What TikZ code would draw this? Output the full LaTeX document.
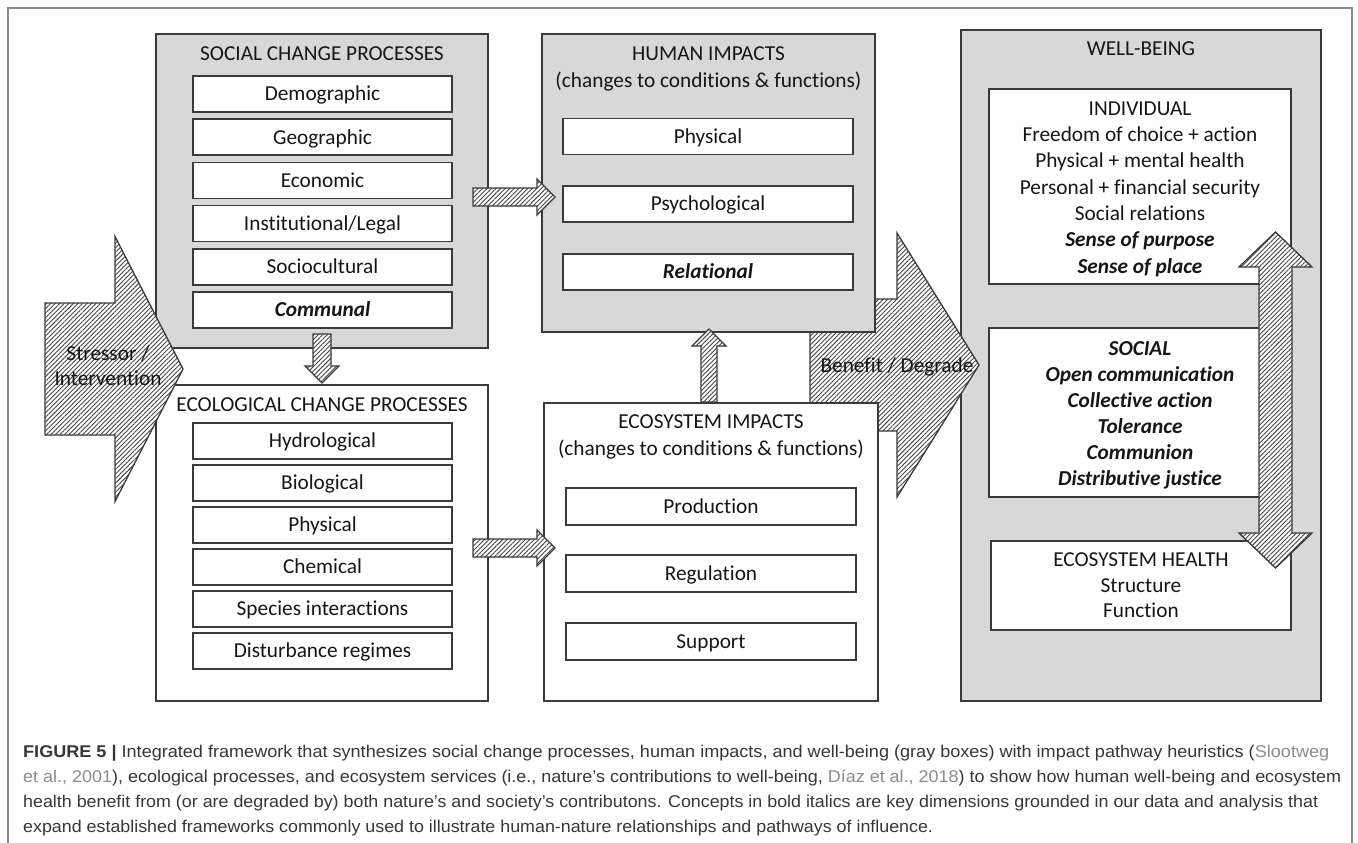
\documentclass[tikz,border=0pt]{standalone}
\usepackage{fontspec}
\setmainfont{Carlito}[Ligatures={TeX,NoCommon}]
\newfontfamily\capfont{Liberation Sans}
\usetikzlibrary{patterns.meta,calc}
\definecolor{boxgray}{RGB}{216,216,216}
\definecolor{edge}{RGB}{58,58,58}
\definecolor{ink}{RGB}{22,22,22}
\definecolor{framegray}{RGB}{140,140,140}
\definecolor{hatchline}{RGB}{70,70,70}
\definecolor{capink}{RGB}{55,55,55}
\definecolor{linkgray}{RGB}{140,140,140}
\newsavebox\capbox
\newcommand\fitline[2]{\sbox\capbox{#2}\pgfmathsetmacro\capsf{#1/\the\wd\capbox}\xdef\lastsf{\capsf}\scalebox{\capsf}[1]{\usebox\capbox}}
\newcommand\sameline[1]{\scalebox{\lastsf}[1]{#1}}
\newcommand\rarrow[5]{% start, tip, shaft half, head half, head length
  \draw[hatch] let \p1=(#1), \p2=(#2) in
   (\x1,\y2+#3) -- (\x2-#5,\y2+#3) -- (\x2-#5,\y2+#4) -- (\x2,\y2) -- (\x2-#5,\y2-#4) -- (\x2-#5,\y2-#3) -- (\x1,\y2-#3) -- cycle;}
\newcommand\varrow[6]{% start, tip, shaft half, head half, head length, direction (+1 down, -1 up)
  \draw[hatch] let \p1=(#1), \p2=(#2) in
   (\x2-#3,\y1) -- (\x2-#3,\y2+#6*#5) -- (\x2-#4,\y2+#6*#5) -- (\x2,\y2) -- (\x2+#4,\y2+#6*#5) -- (\x2+#3,\y2+#6*#5) -- (\x2+#3,\y1) -- cycle;}
\tikzset{
 graybox/.style={draw=edge, line width=1.6pt, fill=boxgray, inner sep=0pt},
 whitebox/.style={draw=edge, line width=1.6pt, fill=white, inner sep=0pt},
 item/.style={whitebox, text height=13.7pt, text depth=0pt, font=\fontsize{21.3pt}{26pt}\selectfont, text=ink},
 txt/.style={anchor=base, inner sep=0pt, font=\fontsize{21.3pt}{26pt}\selectfont, text=ink},
 hatch/.style={draw=edge, line width=1.3pt, line join=miter, preaction={fill=white}, pattern={Lines[angle=45,distance=3.2pt,line width=0.9pt]}, pattern color=hatchline},
 capline/.style={anchor=base west, inner sep=0pt, font=\capfont\fontsize{17pt}{20pt}\selectfont, text=capink},
}
\begin{document}
\begin{tikzpicture}[x=1pt,y=-1pt]
\useasboundingbox (0,0) rectangle (1358,843);
\fill[white] (0,0) rectangle (1358,843);
% outer frame
\coordinate (fbl) at (8,850); \coordinate (ftl) at (8,8); \coordinate (ftr) at (1352,8); \coordinate (fbr) at (1352,850);
\draw[framegray, line width=1.5pt] (fbl) -- (ftl) -- (ftr) -- (fbr);

% ---------- well-being ----------
\node[graybox, minimum width=360pt, minimum height=671pt] (wb) at (1141,365.5) {};
\node[txt] (wbt) at (1141,56) {WELL-BEING};
\node[whitebox, minimum width=302pt, minimum height=195pt] (indiv) at (1140,186.5) {};
\node[whitebox, minimum width=302pt, minimum height=169pt] (socwb) at (1140,412.5) {};
\node[whitebox, minimum width=300pt, minimum height=89pt] (ecoh) at (1141,585.5) {};
\foreach \y/\t [count=\i] in {115/INDIVIDUAL, 141.3/Freedom of choice + action, 167.7/Physical + mental health, 194/Personal + financial security, 220.3/Social relations, 246.7/{\bfseries\itshape Sense of purpose}, 273/{\bfseries\itshape Sense of place}}
  \node[txt] (ind\i) at (1140,\y) {\t};
\foreach \y/\t [count=\i] in {355/SOCIAL, 381.1/Open communication, 407.3/Collective action, 433.4/Tolerance, 459.6/Communion, 485.7/Distributive justice}
  \node[txt, font=\fontsize{21.3pt}{26pt}\selectfont\bfseries\itshape] (sw\i) at (1140,\y) {\t};
\foreach \y/\t [count=\i] in {566.7/ECOSYSTEM HEALTH, 592.2/Structure, 617.7/Function}
  \node[txt] (eh\i) at (1141,\y) {\t};

% ---------- benefit / degrade arrow ----------
\coordinate (bdS) at (810,365); \coordinate (bdT) at (979,365);
\rarrow{bdS}{bdT}{66pt}{132pt}{82pt}
\node[txt] (bdtxt) at (897,372.7) {Benefit / Degrade};

% ---------- social change processes ----------
\node[graybox, minimum width=332pt, minimum height=314pt] (social) at (322,191) {};
\node[txt] (socialt) at (322,60) {SOCIAL CHANGE PROCESSES};
\foreach \y/\t [count=\i] in {94/Demographic, 137.2/Geographic, 180.4/Economic, 223.6/{Institutional/Legal}, 266.8/Sociocultural, 310/{\bfseries\itshape Communal}}
  \node[item, minimum width=259pt, minimum height=36pt] (sc\i) at (322.5,\y) {\t};

% ---------- ecological change processes ----------
\node[whitebox, minimum width=332pt, minimum height=316pt] (ecol) at (322,543) {};
\node[txt] (ecolt) at (322,411) {ECOLOGICAL CHANGE PROCESSES};
\foreach \y/\t [count=\i] in {441/Hydrological, 483/Biological, 525/Physical, 567/Chemical, 609/Species interactions, 651/Disturbance regimes}
  \node[item, minimum width=259pt, minimum height=36pt] (ec\i) at (322.5,\y) {\t};

% ---------- human impacts ----------
\node[graybox, minimum width=333pt, minimum height=298pt] (human) at (708.5,183) {};
\node[txt] (humant1) at (708.5,60) {HUMAN IMPACTS};
\node[txt] (humant2) at (708.5,88) {(changes to conditions \& functions)};
\foreach \y/\t [count=\i] in {136.5/Physical, 204/Psychological, 272/{\bfseries\itshape Relational}}
  \node[item, minimum width=290pt, minimum height=36pt] (hi\i) at (708,\y) {\t};

% ---------- ecosystem impacts ----------
\node[whitebox, minimum width=334pt, minimum height=298pt] (ecoimp) at (711,552) {};
\node[txt] (ecoimpt1) at (711,428) {ECOSYSTEM IMPACTS};
\node[txt] (ecoimpt2) at (711,455) {(changes to conditions \& functions)};
\foreach \y/\t [count=\i] in {506.5/Production, 573.5/Regulation, 641.5/Support}
  \node[item, minimum width=290pt, minimum height=37pt] (ei\i) at (711,\y) {\t};

% ---------- small arrows ----------
\coordinate (shS) at (473,197); \coordinate (shT) at (555,197);
\rarrow{shS}{shT}{9pt}{18pt}{18pt}
\coordinate (eeS) at (473,548); \coordinate (eeT) at (555,548);
\rarrow{eeS}{eeT}{9pt}{18pt}{18pt}
\coordinate (seS) at (322,334); \coordinate (seT) at (322,383);
\varrow{seS}{seT}{9pt}{17pt}{17pt}{1}
\coordinate (ehS) at (709,402); \coordinate (ehT) at (709,329);
\varrow{ehS}{ehT}{8pt}{17pt}{17pt}{-1}

% ---------- stressor arrow ----------
\coordinate (stS) at (45,369); \coordinate (stT) at (183,369);
\rarrow{stS}{stT}{66pt}{132.5pt}{68pt}
\node[txt] (st1) at (108,360) {Stressor /};
\node[txt] (st2) at (108,385.7) {Intervention};

% ---------- double vertical arrow ----------
\coordinate (dT) at (1275.5,232); \coordinate (dB) at (1275.5,568);
\draw[hatch] let \p1=(dT), \p2=(dB) in
  (\x1,\y1) -- (\x1+36.5pt,\y1-35pt) -- (\x1+16.5pt,\y1-35pt) -- (\x1+16.5pt,\y2+35pt) -- (\x1+36.5pt,\y2+35pt)
  -- (\x2,\y2) -- (\x1-36.5pt,\y2+35pt) -- (\x1-16.5pt,\y2+35pt) -- (\x1-16.5pt,\y1-35pt) -- (\x1-36.5pt,\y1-35pt) -- cycle;

% ---------- caption ----------
\node[capline] (cap1) at (23,757) {\fitline{1306}{\textbf{FIGURE 5 |} Integrated framework that synthesizes social change processes, human impacts, and well-being (gray boxes) with impact pathway heuristics (\textcolor{linkgray}{Slootweg}}};
\node[capline] (cap2) at (23,782) {\fitline{1318}{\textcolor{linkgray}{et al., 2001}), ecological processes, and ecosystem services (i.e., nature’s contributions to well-being, \textcolor{linkgray}{Díaz et al., 2018}) to show how human well-being and ecosystem}};
\node[capline] (cap3) at (23,807) {\fitline{1295}{health benefit from (or are degraded by) both nature’s and society’s contributons. Concepts in bold italics are key dimensions grounded in our data and analysis that}};
\node[capline] (cap4) at (23,832) {\sameline{expand established frameworks commonly used to illustrate human-nature relationships and pathways of influence.}};
\end{tikzpicture}
\end{document}
